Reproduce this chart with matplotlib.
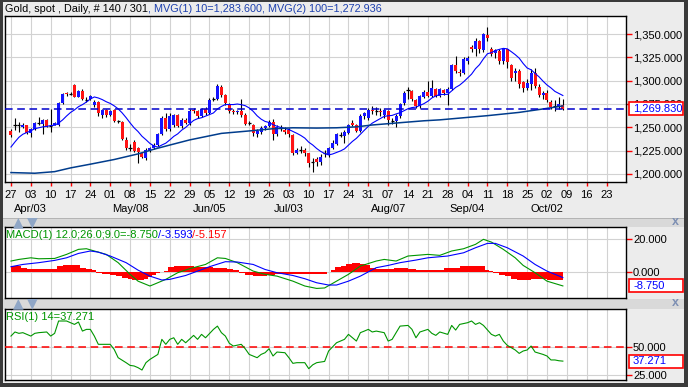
import matplotlib
import matplotlib.pyplot as plt
import matplotlib.transforms as mtransforms
import numpy as np
import pandas as pd
from matplotlib.patches import Rectangle
from matplotlib.ticker import FuncFormatter

matplotlib.use("Agg")

plt.rcParams["font.family"] = ["Liberation Sans", "DejaVu Sans"]
plt.rcParams["font.size"] = 8

W, H = 688, 387

# daily bars, bar 0 = Mon 27 Mar 2017 (140 bars, weekdays only)
opens = [
    1246, 1252, 1252, 1250, 1252, 1244, 1248, 1255, 1254, 1258,
    1251, 1253, 1252, 1276, 1287, 1286, 1295, 1283, 1289, 1279,
    1280, 1274, 1277, 1263, 1268.6, 1263, 1269, 1256.8, 1256, 1236,
    1227.5, 1234, 1228, 1223, 1217, 1225, 1228, 1231, 1243, 1259.6,
    1248, 1252, 1263, 1251, 1258, 1255, 1269, 1267, 1262, 1270,
    1265, 1280, 1280, 1293.5, 1284.6, 1274, 1268, 1266, 1268, 1263,
    1255, 1252, 1243, 1245, 1249, 1251, 1256, 1243, 1249, 1247,
    1247, 1242, 1223, 1226, 1226, 1222, 1213, 1216, 1213, 1222,
    1220, 1228, 1232, 1242, 1241, 1244, 1255, 1253, 1246, 1262,
    1260, 1269, 1267.6, 1268, 1263, 1268, 1257, 1257, 1262, 1275.7,
    1290, 1289, 1279, 1273, 1283, 1288, 1283.6, 1290.8, 1283.6, 1290,
    1287, 1291.5, 1316.5, 1309.5, 1308.6, 1321, 1336, 1333.6, 1342.5, 1333,
    1348.6, 1333.6, 1329.3, 1331.8, 1321, 1333.6, 1316.5, 1308.6, 1310.4, 1298.6,
    1292.5, 1296, 1308.6, 1293.6, 1284.3, 1286.5, 1277.2, 1272.9, 1272.9, 1273.8,
]
highs = [
    1248, 1260, 1256, 1255, 1253, 1249, 1256, 1261, 1259, 1259,
    1270, 1256, 1277, 1287, 1288, 1288, 1296, 1290, 1291, 1283,
    1285, 1279, 1278, 1270, 1270, 1269, 1270, 1258, 1257, 1240,
    1232, 1236, 1229, 1224, 1228, 1229, 1233, 1244, 1262, 1265,
    1265, 1264, 1264, 1260, 1260, 1270, 1271, 1269, 1271, 1272,
    1281, 1282, 1296, 1295, 1286, 1276, 1270, 1269, 1280, 1265,
    1257, 1254, 1248, 1251, 1253, 1258, 1259, 1252, 1253, 1250,
    1249, 1243, 1228, 1230, 1228, 1223, 1217, 1218, 1221, 1226,
    1229, 1236, 1244, 1245, 1247, 1254, 1258, 1254, 1264, 1266,
    1271, 1273, 1272, 1271, 1270, 1269, 1260, 1264, 1276, 1289,
    1293, 1290, 1280, 1285, 1290, 1300, 1301, 1292, 1292, 1291,
    1293, 1318, 1326, 1312, 1325, 1326, 1338, 1346, 1344, 1351,
    1357.5, 1336, 1334, 1334, 1334, 1334, 1318, 1314, 1312, 1300,
    1302, 1313, 1314, 1296, 1289, 1290, 1279, 1279, 1283, 1280,
]
lows = [
    1240, 1247, 1245, 1249, 1243, 1240, 1247, 1252, 1243, 1250,
    1245, 1252, 1251, 1275, 1284, 1285, 1282, 1282, 1279, 1277,
    1279, 1272, 1262, 1260, 1261, 1262, 1256, 1255, 1236, 1226,
    1225, 1224, 1212, 1217, 1215, 1224, 1227, 1230, 1242, 1246,
    1246, 1250, 1250, 1249, 1254, 1253, 1265, 1260, 1261, 1263,
    1264, 1278, 1279, 1283, 1274, 1265, 1264, 1264, 1261, 1252,
    1253, 1241, 1240, 1243, 1247, 1250, 1236, 1241, 1246, 1243,
    1240, 1220, 1221, 1222, 1219, 1208, 1202, 1209, 1210, 1218,
    1218, 1227, 1231, 1240, 1233, 1243, 1251, 1245, 1245, 1259,
    1258, 1264, 1263, 1262, 1260, 1253, 1254, 1250, 1260, 1274,
    1280, 1278, 1271, 1271, 1281, 1282, 1282, 1282, 1282, 1285,
    1274, 1290, 1308, 1305, 1307, 1318, 1331, 1326, 1330, 1331,
    1342.5, 1326, 1324, 1318, 1318, 1314, 1300, 1300, 1292, 1288,
    1290, 1290, 1292, 1283, 1280, 1277, 1270, 1268, 1270, 1269,
]
closes = [
    1242, 1252, 1252, 1253, 1244, 1248, 1255, 1255, 1258, 1251,
    1251, 1255, 1276, 1286, 1286, 1286, 1283, 1289, 1280, 1279,
    1283.5, 1277, 1265, 1268.6, 1263, 1268, 1257, 1256.8, 1237, 1228,
    1227.5, 1225, 1224, 1218, 1226, 1228, 1231, 1243, 1260, 1247.8,
    1262, 1263, 1251, 1258, 1255, 1267, 1267, 1262, 1270, 1265,
    1279, 1280, 1294, 1284.6, 1275.7, 1267, 1266.5, 1268, 1263, 1254,
    1255, 1243.6, 1246, 1249, 1251, 1256, 1243, 1250.7, 1249, 1245,
    1243, 1223, 1226, 1226, 1223, 1212, 1213, 1213, 1218, 1222,
    1228, 1233, 1243, 1242, 1245, 1252, 1253, 1246, 1262, 1265,
    1269, 1268, 1267.6, 1266, 1269, 1258, 1257, 1262, 1275, 1287,
    1290, 1280, 1273, 1283.6, 1288, 1283.6, 1292.5, 1283.6, 1290.8, 1287,
    1291.5, 1316.5, 1310.4, 1308.5, 1323, 1324.7, 1333.6, 1342.5, 1333.6, 1349.7,
    1346, 1328.2, 1333, 1321.1, 1333.6, 1320, 1303.3, 1310.4, 1296.1, 1292.5,
    1298, 1308.6, 1294.3, 1284.3, 1287.2, 1279.3, 1271.8, 1272.9, 1274.7, 1269.83,
]
# the 9 closes before bar 0, needed for the 10-day average
closes_before = [1198, 1202, 1220, 1226, 1229, 1233, 1245, 1248, 1246]

# 100-day average
ma100_bar = [0, 6, 11, 15, 20, 26, 32, 36, 40, 45, 53, 61, 66, 71, 77, 82, 87, 91,
             99, 104, 108, 112, 120, 128, 135, 139]
ma100_val = [1201.5, 1200.8, 1202.5, 1206.5, 1210.5, 1215.5, 1221.5, 1226.5, 1231,
             1236.5, 1243.5, 1246.5, 1248.5, 1249.5, 1249.2, 1249.5, 1250.5, 1252.5,
             1255.3, 1257, 1258, 1259.5, 1262.5, 1266, 1270.3, 1272.936]

# MACD(12,26,9)
macd_bar = [0, 2, 5, 7, 11, 14, 17, 19, 21, 24, 27, 30, 32, 35, 36, 39, 42, 45, 49,
            52, 54, 57, 61, 64, 67, 71, 74, 77, 79, 82, 85, 88, 92, 94, 97, 100, 105,
            108, 111, 114, 117, 119, 121, 124, 127, 129, 132, 135, 139]
macd_val = [6.6, 7.6, 8.6, 8.0, 8.2, 10.7, 13.8, 14.2, 12.8, 10.7, 5.6, -1.6, -5.8,
            -8.8, -7.8, -4.7, -0.6, 1.9, 4.5, 8.6, 8.2, 5.6, 0.4, -1.6, -2.7, -5.8,
            -8.8, -10.3, -10.0, -5.8, -1.6, 3.5, 6.6, 7.6, 6.6, 9.7, 10.7, 10.1, 12.8,
            14.2, 16.9, 20.0, 18.3, 13.8, 8.6, 3.9, -0.6, -5.8, -8.75]
signal_bar = [0, 3, 7, 11, 14, 17, 20, 22, 25, 29, 32, 35, 38, 40, 44, 47, 50, 54, 57,
              61, 64, 67, 71, 74, 77, 80, 82, 85, 88, 92, 95, 98, 102, 105, 110, 114,
              117, 120, 122, 125, 129, 132, 135, 139]
signal_val = [3.1, 4.5, 5.6, 7.0, 8.6, 11.3, 12.8, 12.1, 9.7, 5.6, 1.0, -2.7, -5.1,
              -4.7, -2.3, 0.4, 3.1, 6.2, 6.0, 4.5, 1.4, -0.6, -2.3, -4.3, -6.8, -8.2,
              -8.2, -5.8, -2.7, 2.5, 3.9, 5.6, 7.2, 8.6, 9.7, 11.7, 14.8, 17.5, 17.5,
              14.8, 9.7, 4.5, 0.4, -3.593]
hist_bar = [0, 2, 3, 5, 8, 11, 12, 14, 17, 18, 20, 21, 22, 24, 26, 27, 29, 30, 31, 33,
            34, 35, 36, 37, 38, 39, 40, 42, 45, 47, 50, 52, 54, 55, 57, 58, 60, 62, 64,
            65, 68, 71, 74, 77, 79, 80, 81, 82, 84, 85, 87, 89, 90, 91, 93, 96, 97, 99,
            101, 103, 106, 108, 110, 112, 114, 116, 119, 120, 121, 122, 124, 125, 127,
            128, 130, 132, 134, 136, 138, 139]
hist_val = [3.8, 3.5, 2.0, 1.5, 1.6, 1.8, 3.6, 3.9, 3.9, 2.6, 1.8, 1.2, -0.8, -1.4,
            -1.8, -2.8, -3.6, -4.6, -5.3, -5.2, -4.4, -3.2, -1.8, -1.0, -0.2, 0.6, 2.8,
            3.5, 3.4, 3.0, 3.0, 2.6, 2.4, 1.8, 1.2, -1.0, -2.0, -2.7, -2.6, -1.8, -1.6,
            -1.5, -1.3, -1.6, -1.2, -0.3, 0.8, 2.8, 3.5, 4.8, 5.1, 4.6, 4.2, 2.2, 1.8,
            1.6, 2.5, 2.4, 1.5, 1.0, 1.2, 1.0, 2.2, 2.6, 3.4, 3.8, 3.6, 1.0, 0.2, -0.6,
            -2.0, -2.8, -4.5, -5.2, -5.1, -4.2, -4.4, -4.8, -5.0, -5.157]

# RSI(14)
rsi_bar = [0, 1, 2, 3, 5, 6, 7, 9, 10, 11, 12, 14, 15, 16, 17, 18, 19, 20, 21, 22, 24,
           25, 26, 27, 29, 30, 31, 32, 33, 34, 35, 37, 38, 39, 40, 41, 42, 43, 44, 46,
           47, 48, 49, 51, 52, 53, 54, 55, 56, 58, 59, 60, 62, 63, 64, 65, 66, 67, 69,
           70, 71, 72, 74, 75, 76, 77, 79, 80, 82, 83, 84, 85, 87, 88, 89, 90, 91, 92,
           94, 95, 96, 97, 98, 100, 101, 102, 103, 105, 106, 107, 108, 110, 111, 112,
           113, 115, 116, 117, 118, 119, 121, 122, 123, 124, 125, 127, 128, 129, 130,
           131, 132, 134, 135, 136, 137, 138, 139]
rsi_val = [59.4, 63.0, 61.8, 62.4, 59.4, 61.8, 62.4, 63.0, 59.4, 61.8, 72.7, 72.7, 71.2,
           69.7, 71.8, 63.8, 65.3, 65.3, 59.4, 52.1, 52.1, 52.1, 47.6, 40.3, 35.9, 33.5,
           33.0, 31.5, 29.4, 35.9, 38.8, 43.2, 56.5, 52.1, 56.5, 57.9, 52.1, 56.5, 53.5,
           60.0, 56.5, 60.9, 57.9, 65.3, 68.2, 62.4, 59.4, 53.0, 50.6, 52.1, 48.2, 43.2,
           40.3, 43.2, 44.7, 48.2, 41.8, 45.3, 44.7, 40.3, 35.3, 35.9, 35.9, 30.6, 34.0,
           35.9, 37.0, 46.2, 53.5, 55.0, 56.5, 60.9, 55.0, 62.4, 63.8, 65.3, 63.0, 63.8,
           62.4, 55.0, 56.5, 62.4, 68.2, 68.8, 65.3, 57.9, 63.0, 65.3, 61.8, 60.0, 63.0,
           60.9, 68.8, 64.7, 69.7, 71.2, 72.7, 69.7, 71.2, 68.8, 60.9, 59.4, 60.9, 55.0,
           51.2, 47.1, 44.1, 46.2, 47.1, 50.6, 45.3, 43.2, 41.8, 38.3, 38.3, 37.6, 37.271]

week_start = pd.date_range("2017-03-27", periods=31, freq="7D")
week_bar = np.arange(0, 155, 5)
day_labels = [d.strftime("%d") for d in week_start]
month_labels = ["Apr/03", "May/08", "Jun/05", "Jul/03", "Aug/07", "Sep/04", "Oct/02"]
month_bar = [5, 30, 50, 70, 95, 115, 135]

BG = "#ececec"
BAND = "#d9d9d9"
GREEN = "#009600"


def px_rect(x0, y0, x1, y1):
    # pixel box (top-left origin) -> figure fraction [l, b, w, h]
    return [x0 / W, 1 - y1 / H, (x1 - x0) / W, (y1 - y0) / H]


def fig_box(x0, y0, x1, y1, color, z=0):
    l, b, w, h = px_rect(x0, y0, x1, y1)
    fig.add_artist(Rectangle((l, b), w, h, transform=fig.transFigure,
                             facecolor=color, edgecolor="none", zorder=z))


def setup(ax, ylim, yticks):
    ax.set_facecolor("white")
    ax.set_xlim(-1.5, 154.9)
    ax.set_ylim(*ylim)
    ax.set_xticks(week_bar)
    ax.set_yticks(yticks)
    ax.yaxis.tick_right()
    ax.yaxis.set_major_formatter(FuncFormatter(lambda v, p: f"{v:,.3f}"))
    ax.grid(True, color="#d2d2d2", lw=0.8)
    ax.set_axisbelow(True)
    ax.tick_params(axis="y", colors="red", labelcolor="black", length=4,
                   width=1, pad=1, labelsize=8)
    ax.tick_params(axis="x", length=0, labelbottom=False)
    for s in ax.spines.values():
        s.set_color("black")
        s.set_linewidth(1)


def value_box(ax, v, txt, z=20):
    yd = ax.transData.transform((0, v))[1]
    ident = mtransforms.IdentityTransform()
    fig.add_artist(Rectangle((629, yd - 6.5), 54, 13, transform=ident,
                             facecolor="white", edgecolor="red", lw=1.2, zorder=z))
    fig.text(633, yd, txt, transform=ident, color="#0000ff", fontsize=8,
             va="center", ha="left", zorder=z + 1)


def color_run(ax, x, y, parts, size=8):
    # x, y in axes fraction of ax; following parts chained to the right
    t = ax.text(x, y, parts[0][0], transform=ax.transAxes, color=parts[0][1],
                fontsize=size, va="center", clip_on=False, zorder=10)
    for s, col in parts[1:]:
        t = ax.annotate(s, xy=(1, 0), xycoords=t, color=col, fontsize=size,
                        va="bottom", ha="left", annotation_clip=False, zorder=10)


fig = plt.figure(figsize=(W / 100, H / 100), dpi=100, facecolor=BG)

# separator bands and outer frame
fig_box(0, 218, W, 227, BAND)
fig_box(0, 299, W, 309, BAND)
fig_box(0, 217.5, W, 218.5, "#b4b4b4")

ax_main = fig.add_axes(px_rect(5, 16, 626, 182))
ax_macd = fig.add_axes(px_rect(5, 227, 626, 298))
ax_rsi = fig.add_axes(px_rect(5, 309, 626, 380))

# ---- price panel
setup(ax_main, (1191.4, 1369.3), [1200, 1225, 1250, 1275, 1300, 1325, 1350])
ax_main.tick_params(axis="x", colors="red", labelcolor="black", length=3,
                    width=1, labelbottom=True, labelsize=8, pad=2.5)
ax_main.set_xticklabels(day_labels)

x = np.arange(len(closes))
o, h, l, c = (np.array(a, dtype=float) for a in (opens, highs, lows, closes))
up, dn, flat = c > o, c < o, c == o
ax_main.vlines(x, l, h, color="black", lw=0.8, zorder=3)
ax_main.bar(x[up], (c - o)[up], bottom=o[up], width=0.75, color="#1414ff", zorder=4)
ax_main.bar(x[dn], (o - c)[dn], bottom=c[dn], width=0.75, color="#ff1414", zorder=4)
ax_main.hlines(c[flat], x[flat] - 0.4, x[flat] + 0.4, color="black", lw=0.9, zorder=4)

ma10 = pd.Series(closes_before + closes).rolling(10).mean().iloc[len(closes_before):]
ax_main.plot(x, ma10.values, color="#0000ff", lw=0.8, zorder=5)
ax_main.plot(ma100_bar, ma100_val, color="#003c8c", lw=1.1, zorder=5)
ax_main.axhline(closes[-1], color="#0000cc", lw=1.1, ls=(0, (5, 3)), zorder=6)

blend = mtransforms.blended_transform_factory(ax_main.transData, ax_main.transAxes)
for b, s in zip(month_bar, month_labels):
    ax_main.text(b, -0.163, s, transform=blend, ha="center", va="center", fontsize=8)

# ---- MACD panel
setup(ax_macd, (-16.2, 27.6), [0, 20])
ax_macd.fill_between(hist_bar, hist_val, 0, step="mid", color="#ff0000", lw=0, zorder=3)
ax_macd.plot(macd_bar, macd_val, color=GREEN, lw=0.8, zorder=4)
ax_macd.plot(signal_bar, signal_val, color="#0000ff", lw=0.8, zorder=4)

# ---- RSI panel
setup(ax_rsi, (20.6, 83.3), [25, 50])
ax_rsi.axhline(50, color="#ff0000", lw=1.1, ls=(0, (5, 3)), zorder=3)
ax_rsi.plot(rsi_bar, rsi_val, color=GREEN, lw=0.8, zorder=4)

# last-value boxes
value_box(ax_main, closes[-1], f"{closes[-1]:,.3f}")
value_box(ax_macd, macd_val[-1], f"{macd_val[-1]:.3f}")
value_box(ax_rsi, rsi_val[-1], f"{rsi_val[-1]:.3f}")

# titles: header above the price panel, then panel captions
color_run(ax_main, 0, 1 + 7 / 166, [
    ("Gold, spot , Daily, # 140 / 301", "black"),
    (f", MVG(1) 10=1,283.600, MVG(2) 100={ma100_val[-1]:,.3f}", "#1c3fae"),
], size=7.8)
color_run(ax_macd, 1 / 621, 1 - 8 / 71, [
    (f"MACD(1) 12.0;26.0;9.0={macd_val[-1]:.3f}", GREEN),
    (f"/{signal_val[-1]:.3f}", "#0000ff"),
    (f"/{hist_val[-1]:.3f}", "#ff0000"),
])
color_run(ax_rsi, 1 / 621, 1 - 7.5 / 71, [
    (f"RSI(1) 14={rsi_val[-1]:.3f}", GREEN),
])

# panel buttons
for yb in (222.5, 303.5):
    fig.text(18 / W, 1 - yb / H, "\u25b2", color="#8fa6c6", fontsize=10,
             family="DejaVu Sans", ha="center", va="center")
    fig.text(32 / W, 1 - yb / H, "\u25bc", color="#8fa6c6", fontsize=10,
             family="DejaVu Sans", ha="center", va="center")
    fig.text(675 / W, 1 - yb / H, "x", color="#7d8fb3", fontsize=9,
             fontweight="bold", ha="center", va="center")

# dark window border
fig_box(0, 0, W, 2, "#3a3a3a", 30)
fig_box(0, 0, 3, H, "#3a3a3a", 30)
fig_box(684, 0, W, H, "#3a3a3a", 30)
fig_box(0, 383, W, H, "#3a3a3a", 30)

fig.savefig("out.png", dpi=100, facecolor=fig.get_facecolor())
